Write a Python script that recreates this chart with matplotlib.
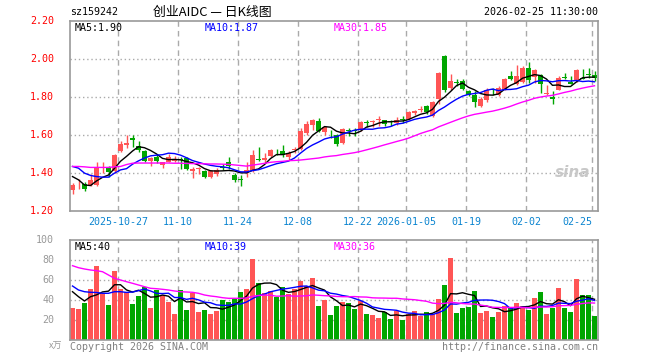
import numpy as np
import pandas as pd
import matplotlib
matplotlib.use("Agg")
from matplotlib import pyplot as plt

# daily candles, 2025-10-15 .. 2026-02-25
opens = [1.310, 1.341, 1.342, 1.337, 1.340, 1.428, 1.430, 1.409, 1.516, 1.549,
         1.586, 1.544, 1.517, 1.466, 1.487, 1.445, 1.458, 1.465, 1.470, 1.479,
         1.412, 1.422, 1.410, 1.379, 1.393, 1.432, 1.461, 1.391, 1.367, 1.400,
         1.415, 1.475, 1.470, 1.489, 1.523, 1.517, 1.484, 1.523, 1.526, 1.610,
         1.652, 1.674, 1.614, 1.607, 1.598, 1.556, 1.624, 1.626, 1.628, 1.669,
         1.670, 1.679, 1.676, 1.671, 1.663, 1.683, 1.684, 1.716, 1.731, 1.751,
         1.698, 1.789, 2.014, 1.847, 1.879, 1.882, 1.833, 1.812, 1.754, 1.781,
         1.840, 1.812, 1.838, 1.909, 1.866, 1.878, 1.951, 1.905, 1.913, 1.814,
         1.799, 1.836, 1.902, 1.877, 1.882, 1.900, 1.919, 1.914]
highs = [1.347, 1.368, 1.356, 1.396, 1.456, 1.458, 1.435, 1.502, 1.567, 1.600,
         1.602, 1.570, 1.523, 1.484, 1.502, 1.461, 1.500, 1.490, 1.487, 1.482,
         1.433, 1.433, 1.417, 1.417, 1.426, 1.449, 1.482, 1.400, 1.391, 1.456,
         1.523, 1.538, 1.503, 1.526, 1.526, 1.549, 1.514, 1.537, 1.636, 1.672,
         1.686, 1.688, 1.649, 1.628, 1.605, 1.636, 1.636, 1.636, 1.672, 1.676,
         1.681, 1.702, 1.677, 1.681, 1.695, 1.702, 1.728, 1.733, 1.751, 1.758,
         1.777, 1.930, 2.017, 1.917, 1.891, 1.895, 1.838, 1.830, 1.800, 1.844,
         1.847, 1.856, 1.900, 1.935, 1.965, 1.961, 1.984, 1.947, 1.917, 1.862,
         1.828, 1.911, 1.926, 1.909, 1.944, 1.944, 1.952, 1.935]
lows = [1.291, 1.319, 1.309, 1.330, 1.335, 1.400, 1.379, 1.400, 1.512, 1.533,
        1.538, 1.509, 1.461, 1.440, 1.452, 1.426, 1.456, 1.460, 1.421, 1.417,
        1.375, 1.398, 1.375, 1.372, 1.387, 1.414, 1.421, 1.351, 1.333, 1.382,
        1.407, 1.466, 1.452, 1.484, 1.496, 1.487, 1.470, 1.505, 1.519, 1.601,
        1.628, 1.614, 1.601, 1.584, 1.544, 1.551, 1.593, 1.596, 1.619, 1.642,
        1.642, 1.649, 1.649, 1.649, 1.654, 1.663, 1.677, 1.707, 1.719, 1.712,
        1.695, 1.760, 1.824, 1.838, 1.856, 1.835, 1.803, 1.747, 1.747, 1.772,
        1.812, 1.803, 1.835, 1.888, 1.860, 1.874, 1.874, 1.874, 1.822, 1.807,
        1.762, 1.835, 1.891, 1.865, 1.877, 1.891, 1.900, 1.882]
closes = [1.339, 1.343, 1.319, 1.365, 1.430, 1.432, 1.405, 1.493, 1.551, 1.558,
          1.572, 1.519, 1.466, 1.480, 1.466, 1.456, 1.486, 1.472, 1.468, 1.423,
          1.424, 1.425, 1.379, 1.410, 1.417, 1.429, 1.435, 1.365, 1.363, 1.415,
          1.496, 1.471, 1.479, 1.521, 1.519, 1.496, 1.505, 1.528, 1.619, 1.659,
          1.679, 1.621, 1.642, 1.603, 1.554, 1.633, 1.620, 1.622, 1.667, 1.665,
          1.673, 1.682, 1.658, 1.667, 1.681, 1.679, 1.719, 1.728, 1.735, 1.719,
          1.772, 1.926, 1.838, 1.882, 1.875, 1.842, 1.812, 1.772, 1.786, 1.838,
          1.836, 1.844, 1.891, 1.891, 1.909, 1.953, 1.890, 1.939, 1.866, 1.817,
          1.789, 1.900, 1.898, 1.866, 1.939, 1.896, 1.915, 1.901]
# volume in 万手
volumes = [32.3, 31, 37, 51, 74.3, 47, 35, 69, 51, 48.3,
           36.3, 44.3, 53, 32.3, 50.3, 45, 38.3, 26.3, 50.3, 30.3,
           47, 28.3, 30.3, 26.3, 29, 40.3, 38.3, 41, 48.3, 51,
           81, 57, 47, 49, 43, 53, 46.3, 51, 59, 53.7,
           62.3, 34.3, 40.3, 25, 34.3, 38.3, 37, 31, 39, 26.3,
           25, 22.3, 28.3, 21, 29, 20.3, 26.3, 29, 24.3, 28.3,
           25.7, 41, 55, 81.7, 27, 31.7, 33, 49, 27, 29,
           23, 28.3, 34.3, 31.7, 37, 34.3, 30.3, 42.3, 48.3, 26.3,
           32.3, 52.3, 32.3, 28.3, 61, 45, 45, 24.3]

# moving averages at the left edge (they depend on days before the window)
ma5_head = [1.382, 1.365, 1.338, 1.335]
ma10_head = [1.435, 1.426, 1.400, 1.388, 1.382, 1.379, 1.379, 1.400, 1.417]
ma30_head = [1.435, 1.435, 1.433, 1.430, 1.430, 1.430, 1.430, 1.433, 1.435, 1.445,
             1.452, 1.453, 1.453, 1.453, 1.453, 1.453, 1.453, 1.452, 1.452, 1.451,
             1.450, 1.450, 1.449, 1.448, 1.448, 1.447, 1.446, 1.443, 1.440]
vma5_head = [48.3, 43.3, 39, 43.3]
vma10_head = [54, 50, 48.3, 47.7, 47.5, 46.7, 46.7, 48.3, 48.3]
vma30_head = [74.3, 72.3, 71, 70, 69.3, 68.3, 65, 61.7, 60, 58.3,
              56.7, 55, 53.3, 51.7, 51.3, 50.7, 50, 49, 48.3, 48,
              47.7, 46.7, 45, 44, 43.3, 42.3, 41.7, 41.7, 41.7]

tick_pos = [8, 18, 28, 38, 48, 56, 66, 76, 87]
tick_labels = ['2025-10-27', '11-10', '11-24', '12-08', '12-22',
               '2026-01-05', '01-19', '02-02', '02-25']
price_ticks = [1.20, 1.40, 1.60, 1.80, 2.00, 2.20]
vol_ticks = [20, 40, 60, 80, 100]


def moving_avg(values, n, head):
    m = pd.Series(values).rolling(n).mean().to_numpy()
    m[:len(head)] = head
    return m


RED = '#ff5555'
GREEN = '#00a600'
FRAME = '#999999'
GRID = '#aaaaaa'
MONO = 'DejaVu Sans Mono'

o = np.array(opens); h = np.array(highs); l = np.array(lows); c = np.array(closes)
x = np.arange(len(c))
colors = [RED if cc >= oo else GREEN for oo, cc in zip(o, c)]

fig = plt.figure(figsize=(6.6, 3.6), dpi=100)
W, H = 660, 360
left, right = 70, 598
ax1 = fig.add_axes([left / W, 1 - 211.3 / H, (right - left) / W, (211.3 - 20.5) / H])
ax2 = fig.add_axes([left / W, 1 - 340 / H, (right - left) / W, (340 - 240) / H])

xlim = (-2.5 / 6, (right - 72.5) / 6)

# price panel
ax1.vlines(x, l, h, colors=colors, lw=1)
body_lo = np.minimum(o, c)
body_h = np.maximum(np.abs(c - o), 0.004)
ax1.bar(x, body_h, bottom=body_lo, width=0.78, color=colors, linewidth=0)
ax1.plot(x, moving_avg(c, 5, ma5_head), color='black', lw=1)
ax1.plot(x, moving_avg(c, 10, ma10_head), color='#0000ff', lw=1)
ax1.plot(x, moving_avg(c, 30, ma30_head), color='#ff00ff', lw=1)
ax1.set_ylim(1.2, 2.2)

# volume panel
ax2.bar(x, volumes, width=0.78, color=colors, linewidth=0)
ax2.plot(x, moving_avg(volumes, 5, vma5_head), color='black', lw=1)
ax2.plot(x, moving_avg(volumes, 10, vma10_head), color='#0000ff', lw=1)
ax2.plot(x, moving_avg(volumes, 30, vma30_head), color='#ff00ff', lw=1)
ax2.set_ylim(0, 100)

for ax in (ax1, ax2):
    ax.set_xlim(*xlim)
    for p in tick_pos:
        ax.axvline(p - 0.37, color=GRID, lw=1, ls=(0, (4, 3)), zorder=0)
    for s in ax.spines.values():
        s.set_color(FRAME)
        s.set_linewidth(1.2)
    ax.set_xticks([])
    ax.set_yticks([])

for v in price_ticks[1:-1]:
    ax1.axhline(v, color=GRID, lw=1, ls=(0, (1, 2)), zorder=0)
for v in vol_ticks[:-1]:
    ax2.axhline(v, color=GRID, lw=1, ls=(0, (1, 2)), zorder=0)

# axis labels
for v in price_ticks:
    ax1.text(-0.03, v, f'{v:.2f}', transform=ax1.get_yaxis_transform(),
             ha='right', va='center', color='red', fontsize=7.2, family=MONO)
for v in vol_ticks:
    ax2.text(-0.03, v, f'{v}', transform=ax2.get_yaxis_transform(),
             ha='right', va='center', color='#999999', fontsize=7.2, family=MONO)
ax2.text(-0.015, -0.02, 'x万', transform=ax2.transAxes, ha='right', va='top',
         color='#999999', fontsize=6.5, family=['Noto Sans CJK SC', 'DejaVu Sans'])

for p, t in zip(tick_pos, tick_labels):
    ha = 'right' if p == tick_pos[-1] else 'center'
    ax1.text(p - 0.37, -0.028, t, transform=ax1.get_xaxis_transform(), ha=ha, va='top',
             color='#0a84d0', fontsize=7.2, family=MONO)

# legends
ax1.text(0.008, 0.985, 'MA5:1.90', transform=ax1.transAxes, ha='left', va='top',
         color='black', fontsize=7.2, family=MONO)
ax1.text(0.255, 0.985, 'MA10:1.87', transform=ax1.transAxes, ha='left', va='top',
         color='#0000ff', fontsize=7.2, family=MONO)
ax1.text(0.5, 0.985, 'MA30:1.85', transform=ax1.transAxes, ha='left', va='top',
         color='#ff00ff', fontsize=7.2, family=MONO)
ax2.text(0.008, 0.985, 'MA5:40', transform=ax2.transAxes, ha='left', va='top',
         color='black', fontsize=7.2, family=MONO)
ax2.text(0.255, 0.985, 'MA10:39', transform=ax2.transAxes, ha='left', va='top',
         color='#0000ff', fontsize=7.2, family=MONO)
ax2.text(0.5, 0.985, 'MA30:36', transform=ax2.transAxes, ha='left', va='top',
         color='#ff00ff', fontsize=7.2, family=MONO)

# header and footer
fig.text(70 / W, 1 - 12 / H, 'sz159242', ha='left', va='center', fontsize=7.2, family=MONO)
fig.text(153 / W, 1 - 12 / H, '创业AIDC — 日K线图', ha='left', va='center', fontsize=9.3,
         family=['Noto Sans CJK SC', 'DejaVu Sans'])
fig.text(598 / W, 1 - 12 / H, '2026-02-25 11:30:00', ha='right', va='center',
         fontsize=7.2, family=MONO)
fig.text(70 / W, 1 - 347 / H, 'Copyright 2026 SINA.COM', ha='left', va='center',
         color='#808080', fontsize=7.2, family=MONO)
fig.text(598 / W, 1 - 347 / H, 'http://finance.sina.com.cn', ha='right', va='center',
         color='#808080', fontsize=7.2, family=MONO)
fig.text(573 / W, 1 - 172 / H, 'sina', ha='center', va='center', color='#c8c8c8',
         fontsize=11, fontweight='bold', style='italic')

fig.savefig('out.png', dpi=100)
